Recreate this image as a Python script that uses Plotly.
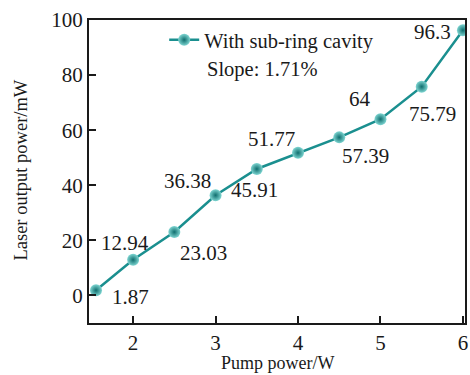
import plotly.graph_objects as go

# Pump power (W) and measured laser output power (mW)
pump_power = [1.55, 2.0, 2.5, 3.0, 3.5, 4.0, 4.5, 5.0, 5.5, 6.0]
output_power = [1.87, 12.94, 23.03, 36.38, 45.91, 51.77, 57.39, 64, 75.79, 96.3]
value_labels = ["1.87", "12.94", "23.03", "36.38", "45.91", "51.77", "57.39", "64", "75.79", "96.3"]

# label offsets (pixels) from each point: (right, up)
label_offsets = [(34, -7), (-8, 17), (29, -21), (-28, 14), (-2, -21),
                 (-27, 14), (26, -19), (-20, 20), (11, -27), (-30, -2)]

x_ticks = [2, 3, 4, 5, 6]
y_ticks = [0, 20, 40, 60, 80, 100]

SERIF = "Liberation Serif"
TEAL = "#1a8f8f"
INK = "#1a1a1a"

fig = go.Figure()
fig.add_trace(go.Scatter(
    x=pump_power, y=output_power,
    mode="lines+markers",
    name="With sub-ring cavity",
    line=dict(color=TEAL, width=2.5),
    marker=dict(size=12, color="#7fd6d2",
                gradient=dict(type="radial", color="#0f6e6e"),
                line=dict(width=0)),
    cliponaxis=True,
))

annotations = []
for xv, yv, txt, (dx, dy) in zip(pump_power, output_power, value_labels, label_offsets):
    annotations.append(dict(
        x=xv, y=yv, xref="x", yref="y", text=txt, showarrow=False,
        xshift=dx, yshift=dy, xanchor="center", yanchor="middle",
        font=dict(family=SERIF, size=21, color=INK),
    ))

annotations.append(dict(
    x=0.308, y=0.835, xref="paper", yref="paper", text="Slope: 1.71%",
    showarrow=False, xanchor="left", yanchor="middle",
    font=dict(family=SERIF, size=20.5, color=INK),
))
annotations.append(dict(
    x=0.5, y=-0.132, xref="paper", yref="paper", text="Pump power/W",
    showarrow=False, xanchor="center", yanchor="middle",
    font=dict(family=SERIF, size=18, color=INK),
))
annotations.append(dict(
    x=-0.182, y=0.505, xref="paper", yref="paper", text="Laser output power/mW",
    showarrow=False, xanchor="center", yanchor="middle", textangle=-90,
    font=dict(family=SERIF, size=18.5, color=INK),
))

axis_common = dict(
    showgrid=False, zeroline=False, showline=True, linecolor=INK,
    linewidth=2, mirror=True, ticks="inside", ticklen=7, tickwidth=2,
    tickcolor=INK, automargin=False,
    tickfont=dict(family=SERIF, size=21, color=INK),
)

fig.update_layout(
    width=470, height=375,
    margin=dict(l=89, r=5, t=20, b=52),
    paper_bgcolor="white", plot_bgcolor="white",
    template="none",
    xaxis=dict(range=[1.465, 6.025], tickvals=x_ticks, **axis_common),
    yaxis=dict(range=[-10, 100], tickvals=y_ticks, **axis_common),
    showlegend=True,
    legend=dict(x=0.2, y=1.0, xanchor="left", yanchor="top",
                bgcolor="rgba(0,0,0,0)", borderwidth=0,
                font=dict(family=SERIF, size=20.5, color=INK)),
    annotations=annotations,
)

fig.write_html("out.html")
